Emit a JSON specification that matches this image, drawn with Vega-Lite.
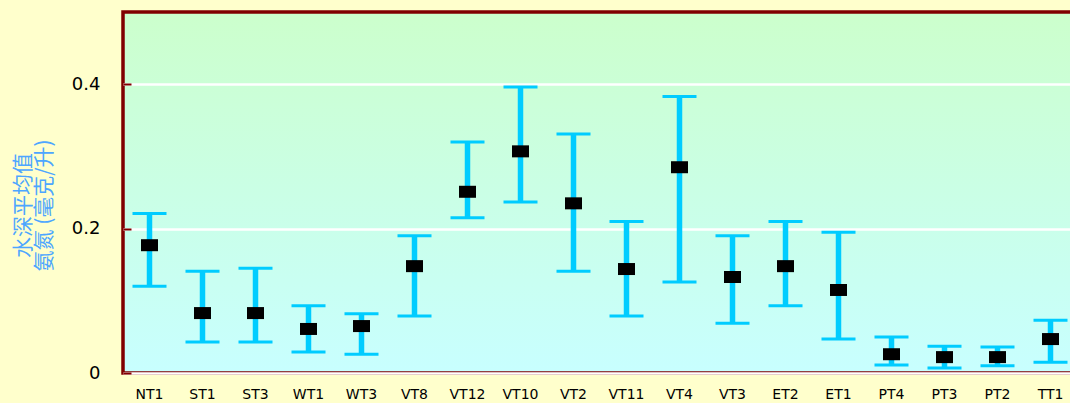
{
  "$schema": "https://vega.github.io/schema/vega-lite/v6.json",
  "width": 954,
  "height": 361,
  "autosize": {"type": "none"},
  "padding": {"left": 123, "top": 12, "right": 0, "bottom": 30},
  "background": "#FFFFCC",
  "config": {
    "view": {
      "fill": {"gradient": "linear", "x1": 0, "y1": 0, "x2": 0, "y2": 1, "stops": [{"offset": 0, "color": "#CCFFCC"}, {"offset": 1, "color": "#C8FFFF"}]},
      "stroke": "#800000",
      "strokeWidth": 3.5
    }
  },
  "data": {
    "values": [
      {"site": "NT1", "mean": 0.177, "lo": 0.120, "hi": 0.221},
      {"site": "ST1", "mean": 0.083, "lo": 0.043, "hi": 0.141},
      {"site": "ST3", "mean": 0.083, "lo": 0.043, "hi": 0.145},
      {"site": "WT1", "mean": 0.061, "lo": 0.029, "hi": 0.093},
      {"site": "WT3", "mean": 0.065, "lo": 0.026, "hi": 0.082},
      {"site": "VT8", "mean": 0.148, "lo": 0.079, "hi": 0.190},
      {"site": "VT12", "mean": 0.251, "lo": 0.215, "hi": 0.320},
      {"site": "VT10", "mean": 0.307, "lo": 0.237, "hi": 0.396},
      {"site": "VT2", "mean": 0.235, "lo": 0.141, "hi": 0.331},
      {"site": "VT11", "mean": 0.144, "lo": 0.079, "hi": 0.210},
      {"site": "VT4", "mean": 0.285, "lo": 0.126, "hi": 0.383},
      {"site": "VT3", "mean": 0.133, "lo": 0.069, "hi": 0.190},
      {"site": "ET2", "mean": 0.148, "lo": 0.093, "hi": 0.210},
      {"site": "ET1", "mean": 0.115, "lo": 0.047, "hi": 0.195},
      {"site": "PT4", "mean": 0.026, "lo": 0.011, "hi": 0.050},
      {"site": "PT3", "mean": 0.022, "lo": 0.007, "hi": 0.037},
      {"site": "PT2", "mean": 0.022, "lo": 0.010, "hi": 0.036},
      {"site": "TT1", "mean": 0.047, "lo": 0.015, "hi": 0.073}
    ]
  },
  "encoding": {
    "x": {
      "field": "site", "type": "nominal", "sort": null,
      "scale": {"paddingInner": 0, "paddingOuter": 0},
      "axis": {"title": null, "labelAngle": 0, "ticks": false, "domain": false, "labelPadding": 25, "labelFont": "DejaVu Sans", "labelFontSize": 14, "labelColor": "#000000", "labelBaseline": "alphabetic"}
    }
  },
  "layer": [
    {
      "mark": {"type": "rule", "color": "#00CCFF", "strokeWidth": 5.5},
      "encoding": {
        "y": {"field": "lo", "type": "quantitative", "scale": {"domain": [0, 0.5]},
          "axis": {"title": ["水深平均值", "氨氮 (毫克/升)"], "titleFont": "Noto Sans CJK SC", "titleFontWeight": "normal", "titleFontSize": 21, "titleColor": "#4DA6FF", "titleLineHeight": 21, "titleX": -90, "titleY": 193, "titleAlign": "center", "titleAngle": -90,
            "values": [0, 0.2, 0.4], "format": "~g", "labelFont": "DejaVu Sans", "labelFontSize": 18, "labelColor": "#000000", "labelPadding": 31,
            "tickSize": -8, "tickColor": "#800000", "tickWidth": 2, "domain": false,
            "grid": true, "gridColor": "#FFFFFF", "gridWidth": 2.5, "gridOpacity": 1}},
        "y2": {"field": "hi"}
      }
    },
    {
      "mark": {"type": "tick", "color": "#00CCFF", "size": 34, "thickness": 3, "opacity": 1},
      "encoding": {"y": {"field": "hi", "type": "quantitative"}}
    },
    {
      "mark": {"type": "tick", "color": "#00CCFF", "size": 34, "thickness": 3, "opacity": 1},
      "encoding": {"y": {"field": "lo", "type": "quantitative"}}
    },
    {
      "mark": {"type": "tick", "color": "#000000", "size": 17, "thickness": 12, "opacity": 1},
      "encoding": {"y": {"field": "mean", "type": "quantitative"}}
    }
  ]
}
